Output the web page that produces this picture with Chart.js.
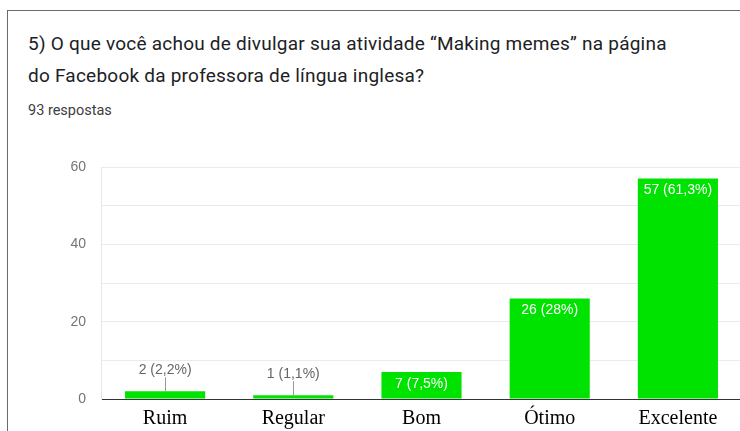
<!DOCTYPE html>
<html>
<head>
<meta charset="utf-8">
<script src="https://cdn.jsdelivr.net/npm/chart.js@4/dist/chart.umd.min.js"></script>
<style>
  html, body { margin: 0; padding: 0; background: #fff; overflow: hidden; }
  #wrap { position: relative; width: 740px; height: 431px; overflow: hidden; }
  #frame {
    position: absolute; left: 7px; top: 10px; width: 800px; height: 500px;
    border-top: 1.5px solid #6b6b6b; border-left: 1.5px solid #6b6b6b;
  }
  .title {
    position: absolute; left: 28px; font-family: Roboto, sans-serif;
    font-size: 19px; letter-spacing: 0.23px; color: #202124; white-space: nowrap;
  }
  #sub {
    position: absolute; left: 28px; top: 102px; font-family: Roboto, sans-serif;
    font-size: 14.5px; color: #3c4043; white-space: nowrap;
  }
  canvas { position: absolute; left: 0; top: 0; }
</style>
</head>
<body>
<div id="wrap">
  <div id="frame"></div>
  <div class="title" style="top:32px">5) O que você achou de divulgar sua atividade “Making memes” na página</div>
  <div class="title" style="top:64px">do Facebook da professora de língua inglesa?</div>
  <div id="sub">93 respostas</div>
  <div style="position:absolute;left:0;top:0;width:744px;height:431px">
    <canvas id="chart" width="744" height="431"></canvas>
  </div>
</div>
<script>
const categories = ['Ruim', 'Regular', 'Bom', 'Ótimo', 'Excelente'];
const counts = [2, 1, 7, 26, 57];
const percentLabels = ['2,2%', '1,1%', '7,5%', '28%', '61,3%'];
const yTicks = [0, 20, 40, 60];

// Draws "n (p%)" labels: inside the bar for tall bars, above with a leader line for short ones
const barLabels = {
  id: 'barLabels',
  afterDatasetsDraw(chart) {
    const ctx = chart.ctx;
    const meta = chart.getDatasetMeta(0);
    ctx.save();
    ctx.font = '14px "Liberation Sans", Arial, sans-serif';
    ctx.textAlign = 'center';
    ctx.textBaseline = 'middle';
    meta.data.forEach((bar, i) => {
      const text = counts[i] + ' (' + percentLabels[i] + ')';
      if (counts[i] >= 5) {
        ctx.fillStyle = '#ffffff';
        ctx.fillText(text, bar.x, bar.y + 12);
      } else {
        const ty = bar.y - 21;
        ctx.fillStyle = '#666666';
        ctx.fillText(text, bar.x, ty);
        ctx.strokeStyle = '#999999';
        ctx.lineWidth = 1;
        ctx.beginPath();
        ctx.moveTo(Math.round(bar.x) + 0.5, ty + 7);
        ctx.lineTo(Math.round(bar.x) + 0.5, bar.y);
        ctx.stroke();
      }
    });
    ctx.restore();
  }
};

new Chart(document.getElementById('chart'), {
  type: 'bar',
  data: {
    labels: categories,
    datasets: [{
      data: counts,
      backgroundColor: '#00e300',
      borderWidth: 0,
      barPercentage: 0.625,
      categoryPercentage: 1
    }]
  },
  options: {
    responsive: false,
    animation: false,
    layout: { padding: { top: 167, right: 2, left: 0, bottom: 0 } },
    plugins: {
      legend: { display: false },
      tooltip: { enabled: false }
    },
    scales: {
      x: {
        grid: { display: false, drawTicks: false },
        border: { display: true, color: '#333333', width: 1 },
        ticks: {
          color: '#000000',
          padding: 8,
          font: { family: '"Liberation Serif", "Times New Roman", serif', size: 20 }
        },
        afterFit(scale) { scale.height = 32; }
      },
      y: {
        min: 0,
        max: 60,
        grid: { color: '#ebebeb', drawTicks: false },
        border: { display: true, color: '#e6e6e6' },
        ticks: {
          stepSize: 10,
          padding: 15,
          color: '#757575',
          font: { family: '"Liberation Sans", Arial, sans-serif', size: 14 },
          callback: (v) => yTicks.includes(v) ? v : ''
        },
        afterFit(scale) { scale.width = 101; }
      }
    }
  },
  plugins: [barLabels]
});
</script>
</body>
</html>
